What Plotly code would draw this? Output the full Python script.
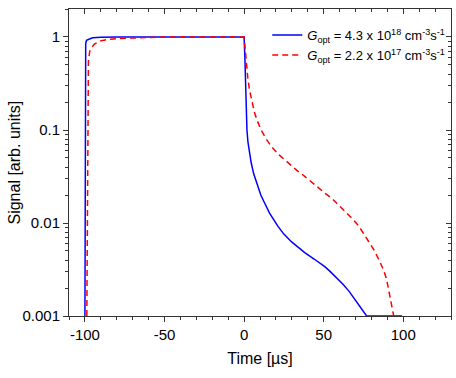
import plotly.graph_objects as go

# ---- data ----
t_blue = [-100, -99.8, -99.5, -99, -98, -97, -96, -95, -93, -90, -80, -50, 0,
          0.5, 1.0, 1.4, 1.8, 2.4, 3.2, 4.4, 6.0, 8.6, 10.5, 12.9, 16, 21.3, 25,
          29.7, 34, 38.1, 44, 47.7, 50.7, 54, 58, 62, 66, 70, 73.5, 77, 85, 99.3]
s_blue = [0.001, 0.3, 0.85, 0.92, 0.94, 0.955, 0.97, 0.98, 0.99, 0.995, 1.0, 1.0, 1.0,
          0.6, 0.3, 0.15, 0.1, 0.075, 0.06, 0.045, 0.034, 0.0248, 0.020, 0.0164, 0.0128,
          0.0092, 0.0076, 0.0063, 0.0055, 0.0048, 0.0041, 0.0037, 0.00339, 0.00302,
          0.0026, 0.00221, 0.00184, 0.00148, 0.00122, 0.001, 0.001, 0.001]

t_red = [-98.8, -98.5, -98.2, -97.8, -97, -96, -94, -91, -88, -85, -78, -70, -60, -50, 0,
         0.5, 1.3, 2.3, 3.4, 5, 6.6, 8.5, 10.7, 13.5, 17, 22, 27.6, 33, 38.1, 44, 50.7, 55,
         58.2, 63, 68.7, 72, 75, 78, 81.4, 84.5, 87.7, 89.5, 90.9, 92, 93, 94, 98]
s_red = [0.001, 0.02, 0.2, 0.55, 0.70, 0.76, 0.84, 0.90, 0.925, 0.945, 0.966, 0.98, 0.99, 1.0, 1.0,
         0.8, 0.52, 0.37, 0.27, 0.2, 0.152, 0.123, 0.1, 0.082, 0.067, 0.054, 0.044, 0.037,
         0.0317, 0.026, 0.021, 0.0185, 0.0164, 0.0135, 0.0108, 0.0093, 0.0078, 0.0064,
         0.0052, 0.0041, 0.0031, 0.0025, 0.0019, 0.0015, 0.00125, 0.001, 0.001]

name_blue = "<i>G</i><sub>opt</sub> = 4.3 x 10<sup>18</sup> cm<sup>-3</sup>s<sup>-1</sup>"
name_red = "<i>G</i><sub>opt</sub> = 2.2 x 10<sup>17</sup> cm<sup>-3</sup>s<sup>-1</sup>"

x_tickvals = [-100, -50, 0, 50, 100]
x_ticktext = ["-100", "-50", "0", "50", "100"]
y_tickvals = [0.001, 0.01, 0.1, 1]
y_ticktext = ["0.001", "0.01", "0.1", "1"]

XR = [-110, 130]
YR = [-3, 0.301]

FONT = "Liberation Sans, Arial, sans-serif"
FRAME = "#333333"

fig = go.Figure()
fig.add_trace(go.Scatter(x=t_blue, y=s_blue, mode="lines", name=name_blue,
                         line=dict(color="#0000FF", width=1.5)))
fig.add_trace(go.Scatter(x=t_red, y=s_red, mode="lines", name=name_red,
                         line=dict(color="#FF0000", width=1.5, dash="6px,4px")))
# helper trace binding the mirrored (top/right) axes
fig.add_trace(go.Scatter(x=[None], y=[None], xaxis="x2", yaxis="y2",
                         showlegend=False, hoverinfo="skip"))

fig.update_layout(
    width=456, height=378,
    margin=dict(l=69, r=5, t=9, b=62),
    paper_bgcolor="white", plot_bgcolor="white",
    font=dict(family=FONT, size=15, color="black"),
    showlegend=True,
    legend=dict(x=0.519, y=0.964, xanchor="left", yanchor="top",
                bgcolor="rgba(0,0,0,0)", font=dict(size=13, family=FONT),
                tracegroupgap=0, itemwidth=30),
    xaxis=dict(range=XR, tickvals=x_tickvals, ticktext=x_ticktext, ticks="outside", ticklen=5,
               tickcolor=FRAME, showline=True, linecolor=FRAME, linewidth=1,
               mirror=True, showgrid=False, zeroline=False, automargin=False,
               minor=dict(dtick=10, tick0=0, ticks="outside", ticklen=3, tickcolor=FRAME),
               title=dict(text="Time [µs]", font=dict(size=16), standoff=10),
               tickfont=dict(size=15)),
    yaxis=dict(type="log", range=YR, tickvals=y_tickvals, ticktext=y_ticktext,
               ticks="outside", ticklen=5, tickcolor=FRAME, showline=True,
               linecolor=FRAME, linewidth=1, mirror=True, showgrid=False, zeroline=False,
               automargin=False,
               minor=dict(dtick="D1", ticks="outside", ticklen=3, tickcolor=FRAME),
               tickfont=dict(size=15)),
    xaxis2=dict(range=XR, overlaying="x", side="top", anchor="y", automargin=False,
                tickvals=x_tickvals, ticks="inside", ticklen=5, tickcolor=FRAME,
                showticklabels=False, showline=False, showgrid=False, zeroline=False,
                minor=dict(dtick=10, tick0=0, ticks="inside", ticklen=3, tickcolor=FRAME)),
    yaxis2=dict(type="log", range=YR, overlaying="y", side="right", anchor="x", automargin=False,
                tickvals=y_tickvals, ticks="inside", ticklen=5, tickcolor=FRAME,
                showticklabels=False, showline=False, showgrid=False, zeroline=False,
                minor=dict(dtick="D1", ticks="inside", ticklen=3, tickcolor=FRAME)),
    annotations=[dict(text="Signal [arb. units]", textangle=-90, showarrow=False,
                      xref="paper", yref="paper", x=-55 / 382, y=0.5,
                      xanchor="center", yanchor="middle", font=dict(size=16))],
)

# remove the default 8px page margin so the figure sits at the window's top-left corner
fig.write_html("out.html", config={"displayModeBar": False},
               post_script="document.body.style.margin='0px';")
